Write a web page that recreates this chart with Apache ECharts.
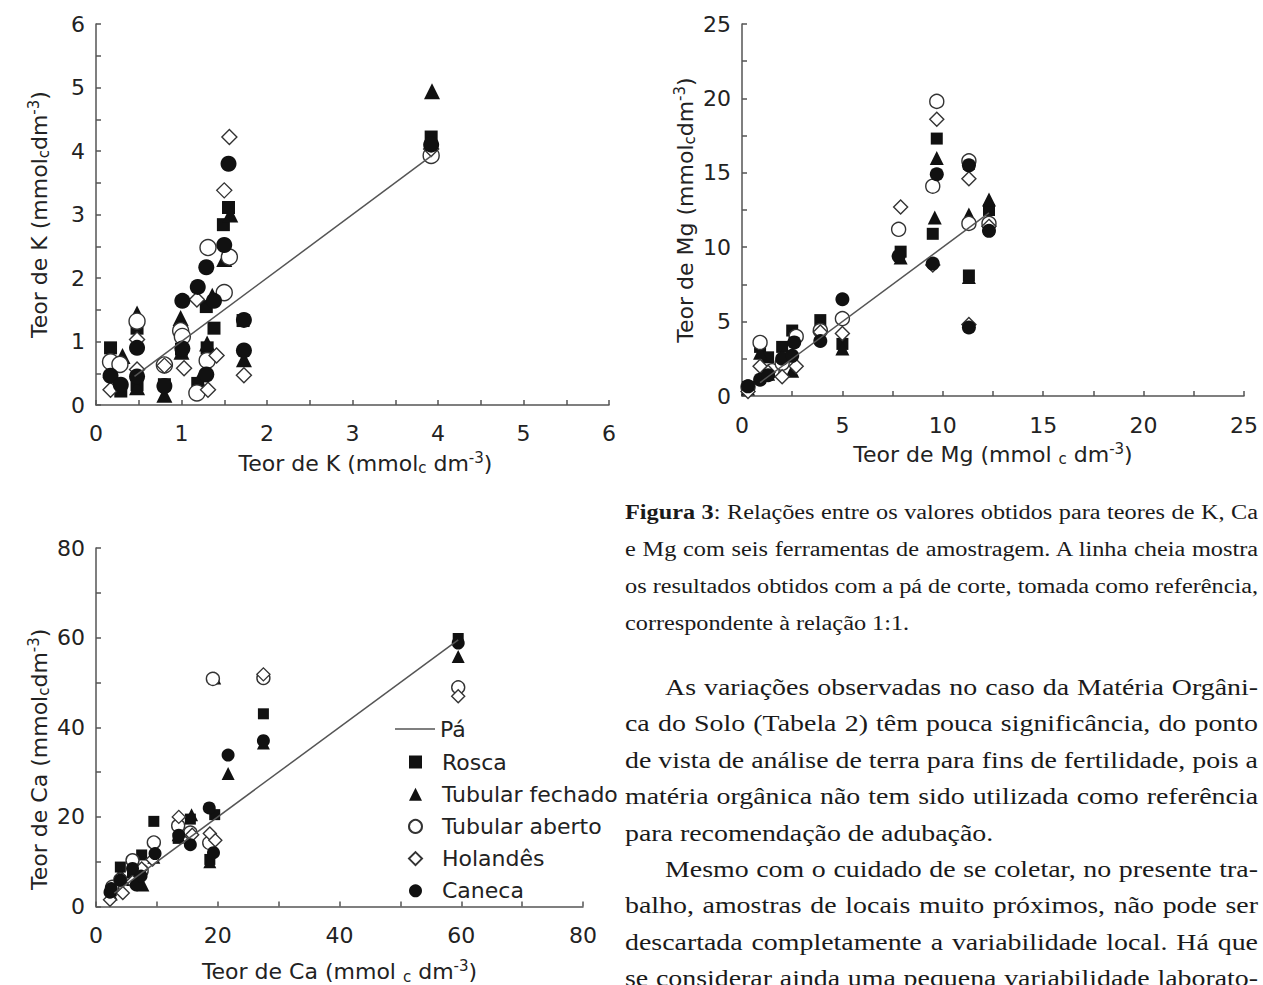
<!DOCTYPE html>
<html><head><meta charset="utf-8">
<script src="https://cdn.jsdelivr.net/npm/echarts/dist/echarts.min.js"></script>
<style>
html,body{margin:0;padding:0;background:#fff;overflow:hidden;}
#chart{position:absolute;left:0;top:0;width:1263px;height:985px;}
.ln{position:absolute;white-space:nowrap;font-family:'Liberation Serif','Times New Roman',serif;color:#1a1a1a;transform-origin:0 50%;}
.cap{font-size:20px;line-height:26px;}
.body{font-size:24px;line-height:30px;}
</style></head><body>
<div id="chart"></div>
<div id="text"></div>
<script>
// ---------- DATA ----------
const seriesNames = ['Rosca', 'Tubular fechado', 'Tubular aberto', 'Holandês', 'Caneca'];
const refName = 'Pá';

// K (mmolc dm-3): [Pá value, sampler value]
const kRosca = [[0.17,0.90],[0.29,0.22],[0.48,1.21],[0.48,0.32],[0.80,0.32],[1.00,0.88],[1.19,0.34],[1.29,1.55],[1.30,0.90],[1.38,1.21],[1.49,2.84],[1.55,3.11],[1.72,1.33],[3.92,4.22]];
const kTubFechado = [[0.17,0.55],[0.31,0.77],[0.48,1.44],[0.48,0.28],[0.80,0.16],[0.99,1.37],[1.00,0.84],[1.20,0.38],[1.30,0.97],[1.36,1.72],[1.50,2.30],[1.57,3.00],[1.73,0.72],[3.93,4.94]];
const kTubAberto = [[0.17,0.68],[0.28,0.64],[0.48,1.32],[0.80,0.63],[0.99,1.17],[1.01,1.08],[1.18,0.19],[1.30,0.70],[1.31,2.48],[1.50,1.77],[1.56,2.33],[3.92,3.93]];
const kHolandes = [[0.17,0.24],[0.48,1.03],[0.48,0.56],[0.80,0.62],[1.03,0.58],[1.18,1.66],[1.31,0.24],[1.41,0.78],[1.50,3.38],[1.56,4.22],[1.73,0.47],[3.92,4.03]];
const kCaneca = [[0.17,0.46],[0.29,0.32],[0.48,0.90],[0.48,0.45],[0.80,0.30],[1.01,1.64],[1.01,0.89],[1.19,1.86],[1.29,2.17],[1.29,0.48],[1.38,1.64],[1.50,2.52],[1.55,3.80],[1.73,1.34],[1.73,0.86],[3.92,4.10]];
const kPa = [[0.45,0.45],[3.93,3.93]];

// Mg
const mgRosca = [[0.3,0.6],[0.9,3.3],[1.3,2.6],[2.0,3.3],[2.5,4.4],[3.9,5.1],[5.0,3.5],[7.9,9.7],[9.5,10.9],[9.7,17.3],[11.3,8.1],[11.3,15.6],[12.3,12.5]];
const mgTubFechado = [[0.3,0.5],[0.9,2.9],[1.3,1.5],[2.0,2.7],[2.5,1.7],[3.9,4.7],[5.0,3.2],[7.9,9.3],[9.6,12.0],[9.7,16.0],[11.3,8.0],[11.3,12.2],[12.3,13.2]];
const mgTubAberto = [[0.3,0.6],[0.9,3.6],[1.5,1.7],[2.0,2.2],[2.7,4.0],[3.9,4.4],[5.0,5.2],[7.8,11.2],[9.5,14.1],[9.7,19.8],[11.3,11.6],[11.3,15.8],[12.3,11.6]];
const mgHolandes = [[0.3,0.3],[0.9,2.0],[1.3,1.6],[2.0,1.3],[2.7,2.0],[3.9,4.3],[5.0,4.2],[7.9,12.7],[9.5,8.8],[9.7,18.6],[11.3,4.8],[11.3,14.6],[12.3,11.4]];
const mgCaneca = [[0.3,0.65],[0.9,1.1],[1.3,1.4],[2.0,2.5],[2.5,2.7],[2.6,3.6],[3.9,3.7],[5.0,6.5],[7.8,9.4],[9.5,8.9],[9.7,14.9],[11.3,4.6],[11.3,15.5],[12.3,11.1]];
const mgPa = [[0.9,0.9],[12.3,12.3]];

// Ca
const caRosca = [[2.5,3.5],[4.0,8.8],[6.0,7.5],[7.5,11.5],[9.5,19.0],[13.5,15.2],[15.5,19.5],[18.7,10.5],[19.5,20.5],[27.5,43.0],[59.5,59.8]];
const caTubFechado = [[2.5,2.8],[4.0,7.5],[6.0,6.0],[7.7,4.8],[9.5,11.0],[13.5,16.0],[15.7,20.5],[18.7,10.0],[19.5,51.0],[21.7,29.7],[27.5,36.5],[59.5,55.8]];
const caTubAberto = [[2.7,4.4],[4.0,6.0],[6.0,10.3],[7.5,8.0],[9.5,14.3],[13.5,18.0],[15.5,16.5],[18.6,14.2],[19.2,50.8],[27.5,51.0],[59.5,48.9]];
const caHolandes = [[2.3,1.5],[4.4,3.0],[6.0,5.5],[7.5,8.5],[9.3,10.5],[13.6,20.0],[15.8,16.0],[18.7,16.3],[19.6,14.8],[27.5,51.8],[59.5,46.9]];
const caCaneca = [[2.3,3.2],[2.5,4.0],[4.0,5.9],[6.0,8.5],[6.6,4.8],[7.4,6.8],[9.7,11.8],[13.6,15.9],[15.5,13.8],[18.6,22.0],[19.3,12.0],[21.7,33.8],[27.5,37.0],[59.5,58.8]];
const caPa = [[3,3],[59.5,59.5]];

// tick labels
const kTickLabels = [0,1,2,3,4,5,6];
const mgTickLabels = [0,5,10,15,20,25];
const caTickLabels = [0,20,40,60,80];

// ---------- CHART ----------
const FONT = 'DejaVu Sans';
const FS = 22;
const TXT = '#222';
const AX = '#555';
const symbols = ['rect','triangle','circle','diamond','circle'];
const filled = [true,true,false,false,true];

function mkAxis(type, gi, max, step, labels, name, gap, margin, pad) {
  const o = {
    type: 'value', gridIndex: gi, min: 0, max: max, interval: step,
    axisLine: {show: true, onZero: false, lineStyle: {color: AX, width: 1.5}},
    axisTick: {show: true, inside: true, length: 5, lineStyle: {color: AX, width: 1.5}},
    splitLine: {show: false},
    axisLabel: {
      margin: margin, fontSize: FS, color: TXT, fontFamily: FONT,
      formatter: v => labels.some(l => Math.abs(l - v) < 1e-9) ? String(v) : ''
    },
    name: name, nameLocation: 'middle', nameGap: gap,
    nameTextStyle: {
      fontSize: FS, color: TXT, fontFamily: FONT, padding: pad || 0,
      rich: {
        s: {fontSize: 15, color: TXT, fontFamily: FONT, padding: [10,0,0,0]},
        p: {fontSize: 15, color: TXT, fontFamily: FONT, padding: [0,0,11,0]}
      }
    }
  };
  if (type === 'y') { o.nameRotate = 90; }
  return o;
}

const grids = [
  {left: 96, top: 24, width: 513, height: 381},
  {left: 742, top: 24, width: 502, height: 372},
  {left: 96, top: 548, width: 487, height: 361}
];

const xAxes = [
  mkAxis('x', 0, 6, 0.5, kTickLabels, 'Teor de K (mmol{s|c} dm{p|-3})', 45, 17, [0,0,0,26]),
  mkAxis('x', 1, 25, 2.5, mgTickLabels, 'Teor de Mg (mmol {s|c} dm{p|-3})', 45, 18),
  mkAxis('x', 2, 80, 10, caTickLabels, 'Teor de Ca (mmol {s|c} dm{p|-3})', 52, 18)
];
const yAxes = [
  mkAxis('y', 0, 6, 0.5, kTickLabels, 'Teor de K (mmol{s|c}dm{p|-3})', 44, 11),
  mkAxis('y', 1, 25, 2.5, mgTickLabels, 'Teor de Mg (mmol{s|c}dm{p|-3})', 44, 11),
  mkAxis('y', 2, 80, 10, caTickLabels, 'Teor de Ca (mmol{s|c}dm{p|-3})', 44, 11, [0,64,0,0])
];

const plotData = [
  {sets: [kRosca, kTubFechado, kTubAberto, kHolandes, kCaneca], pa: kPa, sizes: [13,16,16,15,16]},
  {sets: [mgRosca, mgTubFechado, mgTubAberto, mgHolandes, mgCaneca], pa: mgPa, sizes: [12,14,14,14,14]},
  {sets: [caRosca, caTubFechado, caTubAberto, caHolandes, caCaneca], pa: caPa, sizes: [11,13,13,13,13]}
];

const series = [];
plotData.forEach((pd, gi) => {
  series.push({
    name: refName, type: 'line', xAxisIndex: gi, yAxisIndex: gi, data: pd.pa,
    symbol: 'none', z: 4, silent: true,
    lineStyle: {color: AX, width: 1.5}, itemStyle: {color: AX}
  });
  pd.sets.forEach((d, i) => {
    series.push({
      name: seriesNames[i], type: 'scatter', xAxisIndex: gi, yAxisIndex: gi, data: d,
      symbol: symbols[i], symbolSize: pd.sizes[i], silent: true,
      itemStyle: filled[i] ? {color: '#111', opacity: 1}
                           : {color: '#fff', borderColor: '#333', borderWidth: 1.4, opacity: 1}
    });
  });
});

const chart = echarts.init(document.getElementById('chart'), null, {renderer: 'svg'});
chart.setOption({
  animation: false,
  grid: grids,
  xAxis: xAxes,
  yAxis: yAxes,
  legend: [
    {data: [{name: refName, icon: 'rect'}], left: 395, top: 718, padding: 0,
     itemWidth: 40, itemHeight: 1.6, selectedMode: false,
     textStyle: {fontSize: FS, color: TXT, fontFamily: FONT}},
    {data: seriesNames, orient: 'vertical', left: 408, top: 751, padding: 0,
     itemWidth: 13, itemHeight: 13, itemGap: 10.2, selectedMode: false,
     textStyle: {fontSize: FS, color: TXT, fontFamily: FONT, padding: [0,0,0,15]}}
  ],
  series: series
});

// ---------- TEXT ----------
const captionLines = [
  '<b>Figura 3</b>: Relações entre os valores obtidos para teores de K, Ca',
  'e Mg com seis ferramentas de amostragem. A linha cheia mostra',
  'os resultados obtidos com a pá de corte, tomada como referência,',
  'correspondente à relação 1:1.'
];
const bodyLines = [
  'As variações observadas no caso da Matéria Orgâni-',
  'ca do Solo (Tabela 2) têm pouca significância, do ponto',
  'de vista de análise de terra para fins de fertilidade, pois a',
  'matéria orgânica não tem sido utilizada como referência',
  'para recomendação de adubação.',
  'Mesmo com o cuidado de se coletar, no presente tra-',
  'balho, amostras de locais muito próximos, não pode ser',
  'descartada completamente a variabilidade local. Há que',
  'se considerar ainda uma pequena variabilidade laborato-'
];
const holder = document.getElementById('text');
const RIGHT = 1258, LEFT = 625, INDENT = 40;
function place(lines, cls, centerY0, step, indents, lastLines, lh) {
  const els = lines.map((t, i) => {
    const el = document.createElement('div');
    el.className = 'ln ' + cls;
    el.innerHTML = t;
    const ind = indents.includes(i) ? INDENT : 0;
    el.style.left = (LEFT + ind) + 'px';
    el.style.top = (centerY0 + step * i - lh / 2) + 'px';
    holder.appendChild(el);
    return {el, ind, w: el.getBoundingClientRect().width, i};
  });
  // horizontal scale so the widest justified line just fits
  let s = Infinity;
  els.forEach(o => { if (!lastLines.includes(o.i)) s = Math.min(s, (RIGHT - LEFT - o.ind) / o.w); });
  els.forEach(o => {
    o.el.style.transform = 'scaleX(' + s + ')';
    if (!lastLines.includes(o.i)) {
      const n = (o.el.textContent.match(/ /g) || []).length;
      if (n) o.el.style.wordSpacing = (((RIGHT - LEFT - o.ind) / s - o.w) / n) + 'px';
    }
  });
}
place(captionLines, 'cap', 511.7, 37.2, [], [3], 26);
place(bodyLines, 'body', 687, 36.4, [0,5], [4], 30);
</script>
</body></html>
